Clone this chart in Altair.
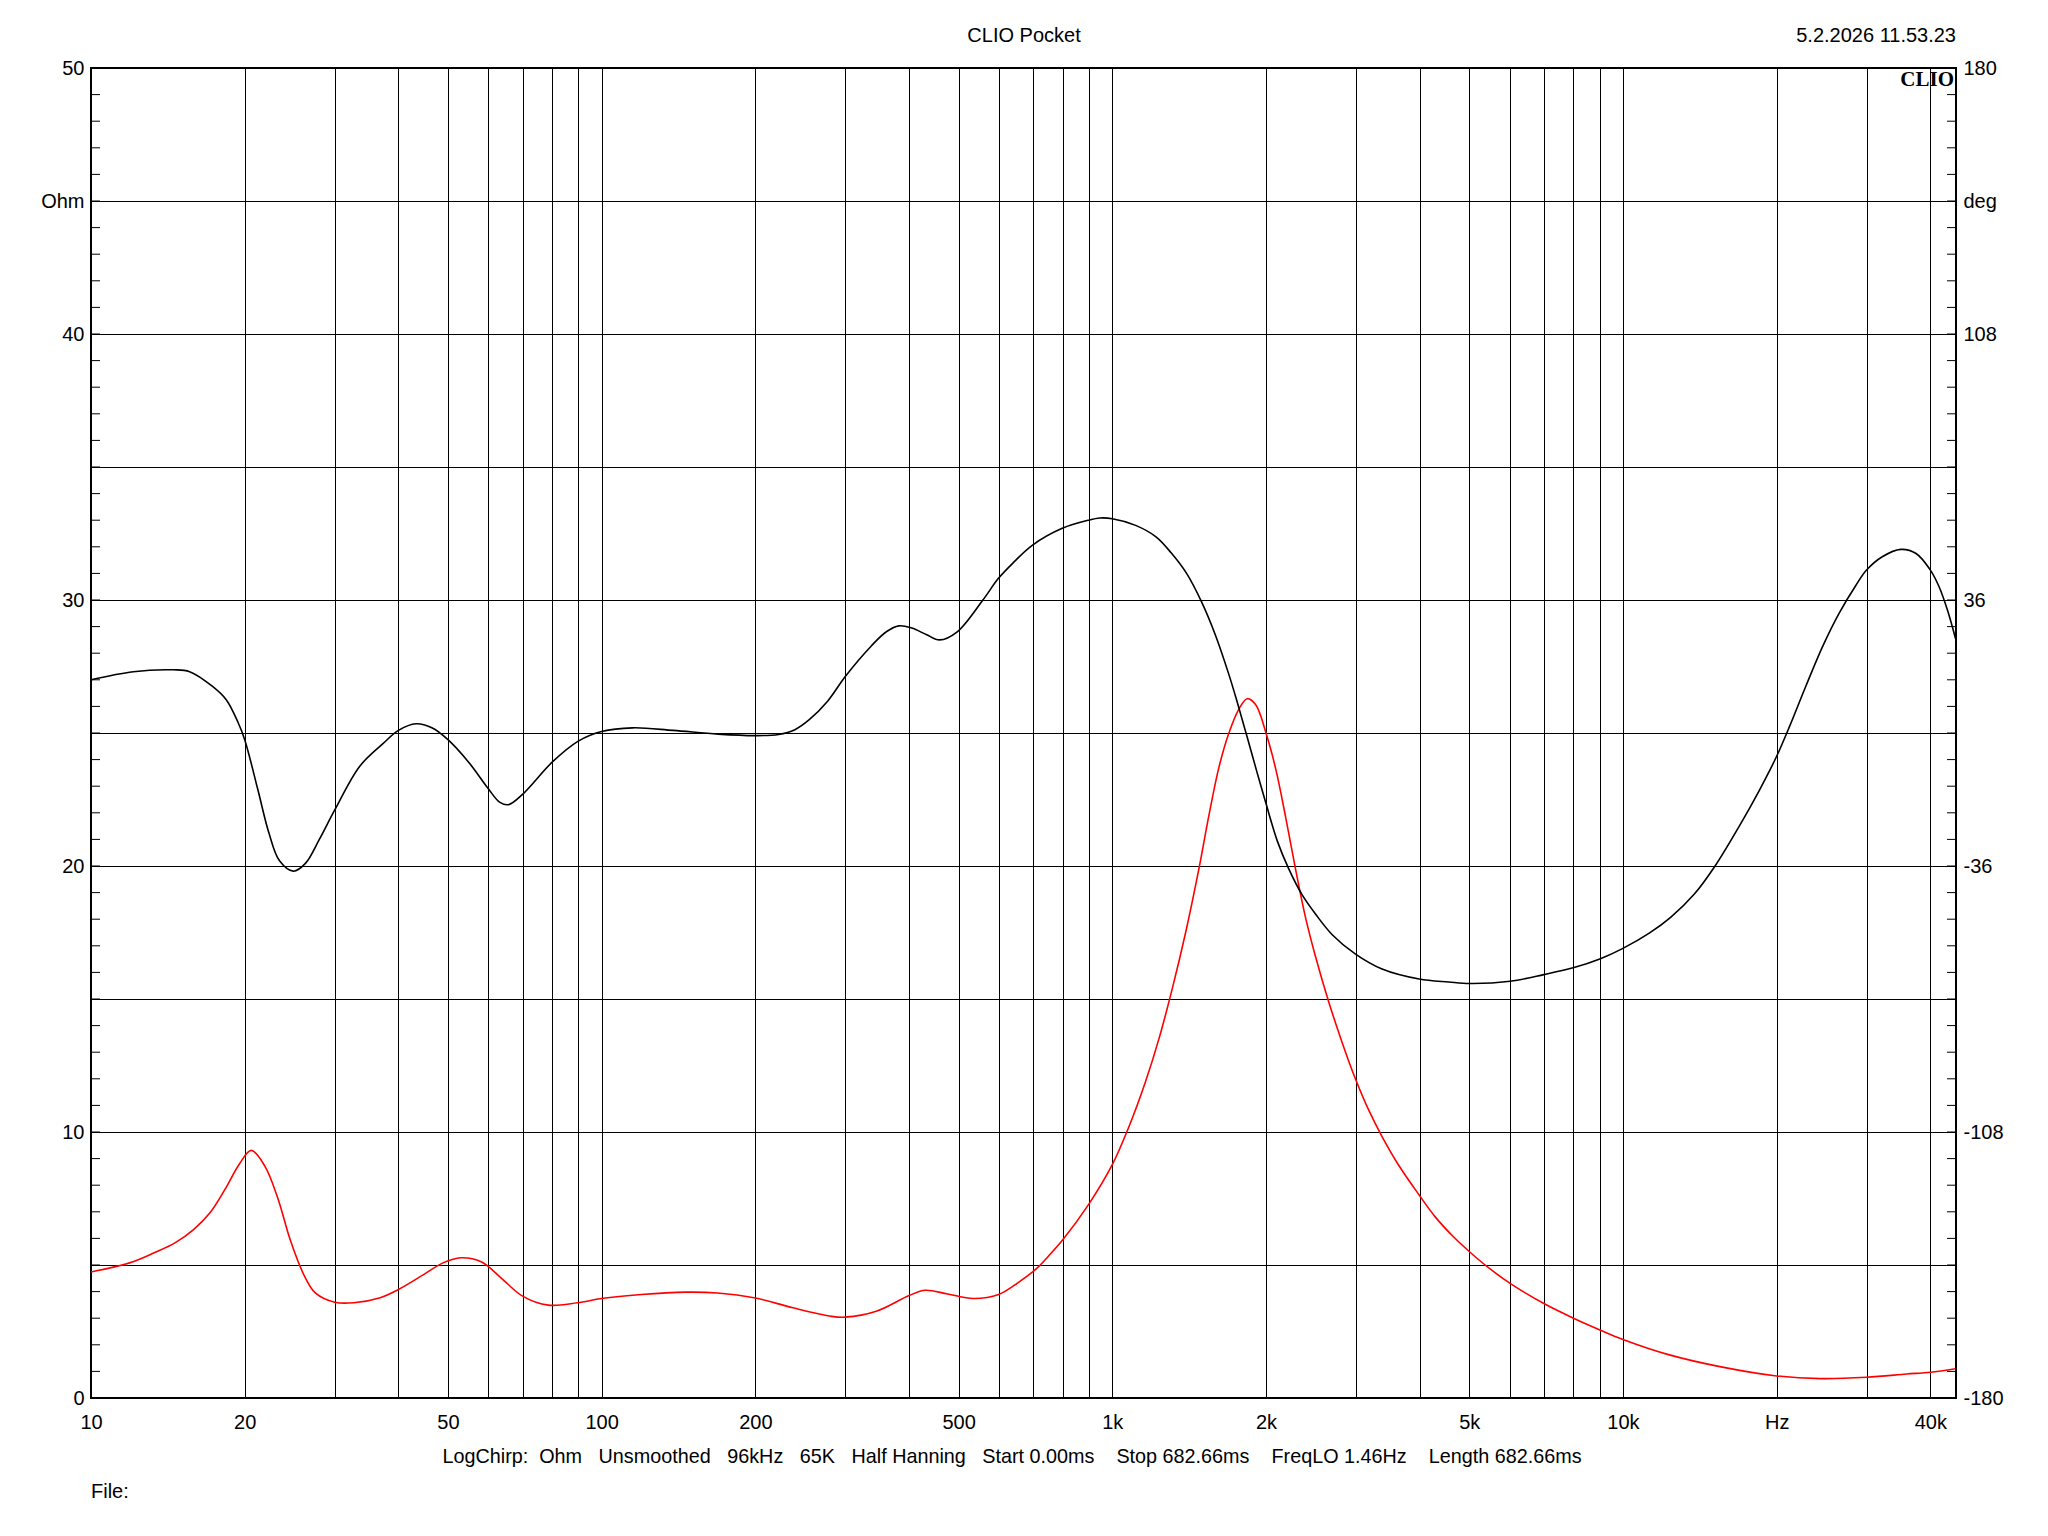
import altair as alt
import pandas as pd

# ---------------- data ----------------
# Impedance magnitude (Ohm) - red curve
mag_freq = [10, 11.9, 13.3, 14.6, 15.9, 17.1, 18.3, 19.5, 20.6, 21.9,
            23.2, 24.6, 26.1, 27.5, 30, 32.7, 36.7, 40, 44.8, 48.9,
            53, 58.1, 63.5, 70, 78.6, 89.6, 100, 119.6, 146, 168.5,
            200, 237, 282, 300, 345, 400, 430, 476, 534, 599,
            653, 713, 751, 800, 899, 1000, 1078, 1162, 1234, 1311,
            1392, 1478, 1546, 1617, 1692, 1770, 1837, 1908, 2000, 2090,
            2185, 2286, 2391, 2500, 2655, 2821, 2990, 3180, 3375, 3638,
            3990, 4293, 4657, 5019, 5470, 6013, 7002, 8020, 9036, 10000,
            12230, 15570, 20000, 24400, 30000, 35900, 40000, 44800]
mag_ohm = [4.74, 5.08, 5.46, 5.83, 6.34, 6.96, 7.84, 8.78, 9.31, 8.72,
           7.53, 5.9, 4.64, 3.95, 3.6, 3.58, 3.76, 4.08, 4.64, 5.08,
           5.27, 5.12, 4.52, 3.83, 3.49, 3.58, 3.74, 3.89, 3.98, 3.95,
           3.76, 3.39, 3.07, 3.04, 3.26, 3.85, 4.05, 3.91, 3.74, 3.89,
           4.33, 4.89, 5.35, 5.95, 7.28, 8.77, 10.2, 11.9, 13.5, 15.4,
           17.5, 19.9, 21.9, 23.7, 25.0, 25.9, 26.29, 26.07, 25.0, 23.64,
           21.84, 19.86, 18.05, 16.6, 14.88, 13.35, 12.02, 10.81, 9.83, 8.75,
           7.63, 6.8, 6.06, 5.48, 4.88, 4.31, 3.55, 2.99, 2.55, 2.2,
           1.64, 1.17, 0.83, 0.73, 0.78, 0.9, 0.97, 1.1]

# Impedance phase (deg) - black curve
ph_freq = [10, 12.1, 14.5, 15.6, 17.3, 18.4, 19.4, 20, 21.2, 22.3,
           23.4, 24.9, 26.3, 28, 30, 33.6, 37.3, 40, 43.3, 46.5,
           50, 54.9, 60, 63.1, 65.7, 70, 80, 90, 100, 115,
           138, 169, 200, 222, 239, 255, 277, 300, 337, 361,
           382, 405, 433, 459, 497, 558, 598, 640, 697, 798,
           898, 946, 1000, 1111, 1218, 1305, 1398, 1498, 1587, 1692,
           1757, 1837, 1922, 2000, 2104, 2215, 2356, 2500, 2696, 2990,
           3375, 3990, 4561, 5019, 6013, 7002, 8020, 9036, 10000, 11280,
           12400, 13800, 15150, 16900, 18500, 20000, 21200, 22800, 24600, 26500,
           28600, 30000, 32200, 35000, 37500, 40000, 41600, 43200, 44800]
ph_deg = [14.4, 16.6, 17.1, 16.6, 12.6, 9.0, 2.9, -1.8, -15.1, -27.0,
          -34.6, -37.4, -35.3, -28.8, -20.9, -9.0, -2.9, 0.7, 2.5, 1.4,
          -1.8, -7.9, -15.1, -18.7, -19.4, -16.6, -7.9, -2.2, 0.4, 1.4,
          0.7, -0.3, -0.7, -0.4, 0.9, 3.6, 8.6, 15.3, 23.5, 27.4,
          29.0, 28.4, 26.6, 25.2, 27.4, 36.0, 41.8, 46.1, 50.8, 55.4,
          57.6, 58.2, 58.0, 56.2, 53.1, 48.7, 43.2, 35.3, 27.0, 15.8,
          8.3, -1.1, -10.8, -19.1, -29.2, -36.7, -43.9, -49.0, -54.6, -59.8,
          -63.9, -66.6, -67.4, -67.8, -67.2, -65.4, -63.5, -61.1, -58.3, -54.1,
          -49.9, -43.6, -36.0, -25.2, -15.5, -6.3, 1.8, 12.6, 23.4, 32.4,
          40.0, 44.1, 47.7, 49.7, 48.6, 44.1, 39.6, 33.3, 25.6]

# axis / grid values and labels
x_grid = [10, 20, 30, 40, 50, 60, 70, 80, 90,
          100, 200, 300, 400, 500, 600, 700, 800, 900,
          1000, 2000, 3000, 4000, 5000, 6000, 7000, 8000, 9000,
          10000, 20000, 30000, 40000]
x_labels = {10: "10", 20: "20", 50: "50", 100: "100", 200: "200", 500: "500",
            1000: "1k", 2000: "2k", 5000: "5k", 10000: "10k", 20000: "Hz", 40000: "40k"}
ohm_grid = list(range(0, 51, 5))
ohm_minor = list(range(1, 50))
deg_grid = list(range(-180, 181, 36))
deg_labelled = [180, 108, 36, -36, -108, -180]

title_text = ["CLIO Pocket"]
date_text = ["5.2.2026 11.53.23"]
logo_text = ["CLIO"]
info_text = ["LogChirp:\u00a0 Ohm \u00a0 Unsmoothed \u00a0 96kHz \u00a0 65K \u00a0 Half Hanning \u00a0 "
             "Start 0.00ms \u00a0\u00a0 Stop 682.66ms \u00a0\u00a0 FreqLO 1.46Hz \u00a0\u00a0 Length 682.66ms"]
file_text = ["File:"]

# ---------------- chart ----------------
FONT = "Liberation Sans"
W, H = 1865, 1330
INTERP = "catmull-rom"

mag_df = pd.DataFrame({"f": mag_freq, "ohm": mag_ohm})
ph_df = pd.DataFrame({"f": ph_freq, "deg": ph_deg})

x_expr = "".join(f"datum.value=={k}?'{v}':" for k, v in x_labels.items()) + "''"
x_enc = alt.X(
    "f:Q",
    scale=alt.Scale(type="log", domain=[10, 44900], nice=False, zero=False),
    axis=alt.Axis(values=x_grid, grid=True, gridColor="black", gridWidth=1, gridOpacity=1,
                  ticks=False, tickSize=0, domain=False, labelExpr=x_expr,
                  labelFont=FONT, labelFontSize=20, labelColor="black", labelPadding=14,
                  labelFlush=False, labelOverlap=False, labelBound=False, title=None),
)

red = alt.Chart(mag_df).mark_line(color="#ff0000", strokeWidth=1.6, interpolate=INTERP).encode(
    x=x_enc,
    y=alt.Y("ohm:Q", scale=alt.Scale(domain=[0, 50], nice=False, zero=False),
            axis=alt.Axis(orient="left", values=ohm_grid, grid=True, gridColor="black",
                          gridWidth=1, gridOpacity=1, ticks=False, tickSize=0, domain=False,
                          labelExpr="datum.value==45?'Ohm':(datum.value%10==0?''+datum.value:'')",
                          labelFont=FONT, labelFontSize=20, labelColor="black", labelPadding=7,
                          labelFlush=False, labelOverlap=False, labelBound=False, title=None)),
)

black = alt.Chart(ph_df).mark_line(color="black", strokeWidth=1.6, interpolate=INTERP).encode(
    x=x_enc,
    y=alt.Y("deg:Q", scale=alt.Scale(domain=[-180, 180], nice=False, zero=False),
            axis=alt.Axis(orient="right", values=deg_grid, grid=False, ticks=False, tickSize=0,
                          domain=False,
                          labelExpr="datum.value==144?'deg':(indexof(%s, datum.value)>=0?''+datum.value:'')"
                          % str(deg_labelled),
                          labelFont=FONT, labelFontSize=20, labelColor="black", labelPadding=7,
                          labelFlush=False, labelOverlap=False, labelBound=False, title=None)),
)

minor_df = pd.DataFrame({"v": ohm_minor})
minor_y = alt.Y("v:Q", scale=alt.Scale(domain=[0, 50], nice=False, zero=False), axis=None)
ticks_left = alt.Chart(minor_df).mark_rule(color="black", strokeWidth=1).encode(
    y=minor_y, x=alt.value(0), x2=alt.value(9))
ticks_right = alt.Chart(minor_df).mark_rule(color="black", strokeWidth=1).encode(
    y=minor_y, x=alt.value(W - 9), x2=alt.value(W))


def label(texts, x, y, align="left", font=FONT, size=20, weight="normal"):
    return alt.Chart(pd.DataFrame({"t": texts})).mark_text(
        align=align, baseline="alphabetic", font=font, fontSize=size,
        fontWeight=weight, color="black").encode(
        x=alt.value(x), y=alt.value(y), text="t:N")


title = label(title_text, 933, -26, align="center")
date = label(date_text, W, -26, align="right")
logo = label(logo_text, W - 2, 18, align="right", font="Liberation Serif", size=21, weight="bold")
info = label(info_text, 921, 1395, align="center", size=19.8)
file_lbl = label(file_text, 0, 1430, align="left")

chart = alt.layer(
    red, black, ticks_left, ticks_right, title, date, logo, info, file_lbl
).resolve_scale(y="independent").properties(
    width=W, height=H,
    padding={"left": 91, "top": 68, "right": 92, "bottom": 138},
    autosize=alt.AutoSizeParams(type="none"),
    background="white",
).configure_view(stroke="black", strokeWidth=2)

chart.save("out.html", embed_options={"renderer": "svg", "actions": False})
